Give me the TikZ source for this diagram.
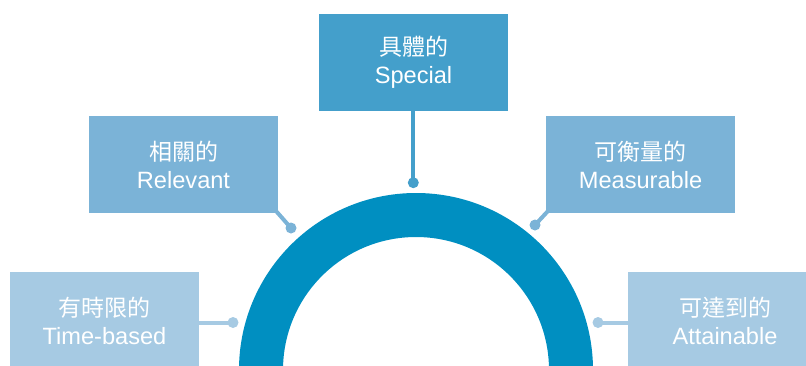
\documentclass[tikz,border=0pt]{standalone}
\usepackage{fontspec}
\setmainfont{Liberation Sans}
\newfontfamily\cjk{Noto Sans CJK TC}
\definecolor{ringc}{HTML}{008FC1}
\definecolor{boxA}{HTML}{449FCB}
\definecolor{boxB}{HTML}{7BB3D7}
\definecolor{boxC}{HTML}{A6CAE3}
\tikzset{
  card/.style={fill=#1, text=white, minimum width=189pt, minimum height=97pt,
    inner sep=0pt, align=center, font=\fontsize{23.6}{28}\selectfont},
  link/.style={draw=#1, line width=4pt},
  knob/.style={fill=#1}
}
\newcommand\zh[1]{{\cjk\fontsize{23}{28}\selectfont #1}}
\begin{document}
\begin{tikzpicture}[x=1pt,y=-1pt]
\useasboundingbox (0,0) rectangle (806,365);
\clip (0,0) rectangle (806,365);
\fill[ringc, even odd rule] (416,370) circle[radius=177pt] (416,370) circle[radius=133pt];
\node[card=boxA] (spec) at (413.5,62.5) {\zh{具體的}\\Special};
\node[card=boxB] (rel) at (183.5,164.5) {\zh{相關的}\\Relevant};
\node[card=boxB] (meas) at (640.5,164.5) {\zh{可衡量的}\\Measurable};
\node[card=boxC] (time) at (104.5,320.5) {\zh{有時限的}\\Time-based};
\node[card=boxC, minimum width=194pt] (att) at (725,320.5) {\zh{可達到的}\\Attainable};
\coordinate (specdot) at (413.3,182.7);
\coordinate (reldot) at (291,228);
\coordinate (measdot) at (535,225);
\coordinate (timedot) at (233,322.5);
\coordinate (attdot) at (598,322.5);
\draw[link=boxA] (spec.south -| specdot) -- (specdot);
\draw[link=boxB] ([xshift=-2pt,yshift=2pt]rel.south east) -- (reldot);
\draw[link=boxB] ([xshift=2pt,yshift=2pt]meas.south west) -- (measdot);
\draw[link=boxC] (timedot -| time.east) -- (timedot);
\draw[link=boxC] (attdot -| att.west) -- (attdot);
\fill[knob=boxA] (specdot) circle[radius=5.5pt];
\fill[knob=boxB] (reldot) circle[radius=5.5pt];
\fill[knob=boxB] (measdot) circle[radius=5.5pt];
\fill[knob=boxC] (timedot) circle[radius=5.5pt];
\fill[knob=boxC] (attdot) circle[radius=5.5pt];
\end{tikzpicture}
\end{document}
